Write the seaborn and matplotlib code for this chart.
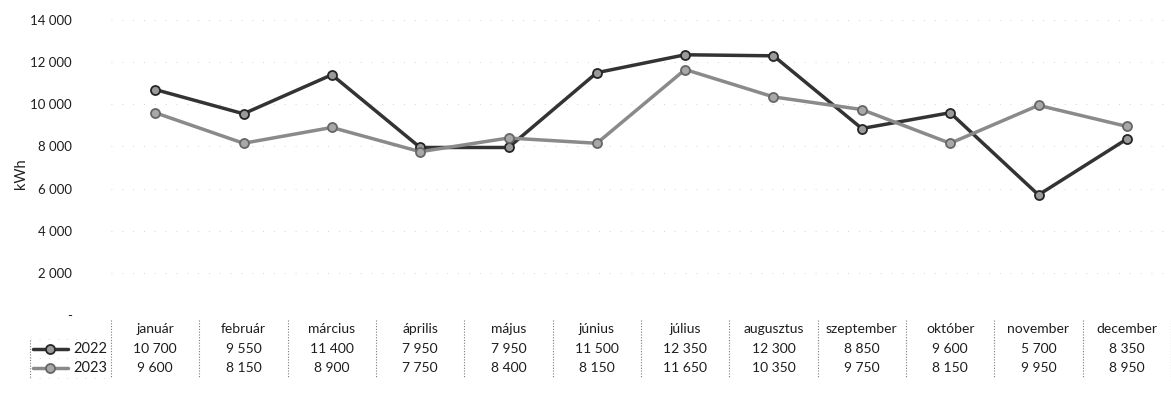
import numpy as np
import pandas as pd
import matplotlib
matplotlib.use("Agg")
import matplotlib.pyplot as plt
import matplotlib.transforms as mtransforms
import seaborn as sns

# chart values
months = ["január", "február", "március", "április", "május", "június",
          "július", "augusztus", "szeptember", "október", "november", "december"]
years = ["2022", "2023"]
kwh_2022 = [10700, 9550, 11400, 7950, 7950, 11500, 12350, 12300, 8850, 9600, 5700, 8350]
kwh_2023 = [9600, 8150, 8900, 7750, 8400, 8150, 11650, 10350, 9750, 8150, 9950, 8950]
y_ticks = [0, 2000, 4000, 6000, 8000, 10000, 12000, 14000]

sns.set_theme(style="white")
plt.rcParams["font.family"] = ["Lato", "DejaVu Sans"]
plt.rcParams["font.size"] = 9.5


def fmt(v):
    return f"{v:,}".replace(",", " ")


df = pd.DataFrame({
    "month": months * 2,
    "idx": list(range(12)) * 2,
    "year": ["2022"] * 12 + ["2023"] * 12,
    "kwh": kwh_2022 + kwh_2023,
})

line_colors = {"2022": "#333333", "2023": "#8a8a8a"}
marker_face = {"2022": "#9a9a9a", "2023": "#a8a8a8"}
marker_edge = {"2022": "#262626", "2023": "#666666"}

W, H = 1171, 394
fig = plt.figure(figsize=(W / 100, H / 100), dpi=100)
left_px, right_px, top_px, bottom_px = 111, 1171, 20, 315
ax = fig.add_axes([left_px / W, 1 - bottom_px / H,
                   (right_px - left_px) / W, (bottom_px - top_px) / H])

sns.lineplot(data=df, x="idx", y="kwh", hue="year", palette=line_colors,
             linewidth=2.5, legend=False, ax=ax)
for yr in years:
    sub = df[df["year"] == yr]
    ax.plot(sub["idx"], sub["kwh"], linestyle="none", marker="o", markersize=6.5,
            markerfacecolor=marker_face[yr], markeredgecolor=marker_edge[yr],
            markeredgewidth=1.3, zorder=5)

ax.set_xlim(-0.5, 11.5)
ax.set_ylim(0, 14000)
ax.set_yticks(y_ticks)
ax.set_yticklabels(["-"] + [fmt(v) for v in y_ticks[1:]])
ax.tick_params(axis="y", length=0, pad=28, labelsize=9.5, colors="#1e1e1e")
ax.set_xticks([])
ax.set_xlabel("")
ax.set_ylabel("kWh", fontsize=10.5, color="#1e1e1e")
ax.yaxis.set_label_coords(-0.078, 0.48)
for sp in ax.spines.values():
    sp.set_visible(False)
for v in y_ticks[1:]:
    ax.axhline(v, color="#c4c4c4", linestyle=(0, (1, 12)), linewidth=0.6, zorder=0)

# data table under the plot
trans = mtransforms.blended_transform_factory(ax.transData, fig.transFigure)
row_y = {"header": 1 - 329 / H, "2022": 1 - 349 / H, "2023": 1 - 368 / H}
table_top = 1 - 320 / H
table_bot = 1 - 378 / H
sep_style = dict(color="#7a7a7a", linestyle=(0, (1, 1.5)), linewidth=0.8)

for i, m in enumerate(months):
    ax.text(i, row_y["header"], m, transform=trans, ha="center", va="center",
            fontsize=10, color="#1e1e1e", clip_on=False)
    ax.text(i, row_y["2022"], fmt(kwh_2022[i]), transform=trans,
            ha="center", va="center", fontsize=10, color="#1e1e1e", clip_on=False)
    ax.text(i, row_y["2023"], fmt(kwh_2023[i]), transform=trans,
            ha="center", va="center", fontsize=10, color="#1e1e1e", clip_on=False)

for b in np.arange(-0.5, 12, 1.0):
    ax.plot([b, b], [table_top, table_bot], transform=trans, clip_on=False, **sep_style)

# left legend column
fig_x = lambda px: px / W
for yr in years:
    y = row_y[yr]
    fig.add_artist(plt.Line2D([fig_x(33), fig_x(68)], [y, y], color=line_colors[yr],
                              linewidth=2.5))
    fig.add_artist(plt.Line2D([fig_x(50)], [y], marker="o", markersize=6.5,
                              markerfacecolor=marker_face[yr], markeredgecolor=marker_edge[yr],
                              markeredgewidth=1.3, linestyle="none"))
    fig.text(fig_x(107), y, yr, ha="right", va="center", fontsize=10.5, color="#1e1e1e")
fig.add_artist(plt.Line2D([fig_x(30), fig_x(30)], [1 - 340 / H, table_bot], **sep_style))
for y in [1 - 339 / H, 1 - 358 / H, table_bot]:
    fig.add_artist(plt.Line2D([fig_x(30), fig_x(110)], [y, y], color="#c8c8c8",
                              linestyle=(0, (1, 10)), linewidth=0.6))

fig.savefig("out.png", dpi=100, facecolor="white")
